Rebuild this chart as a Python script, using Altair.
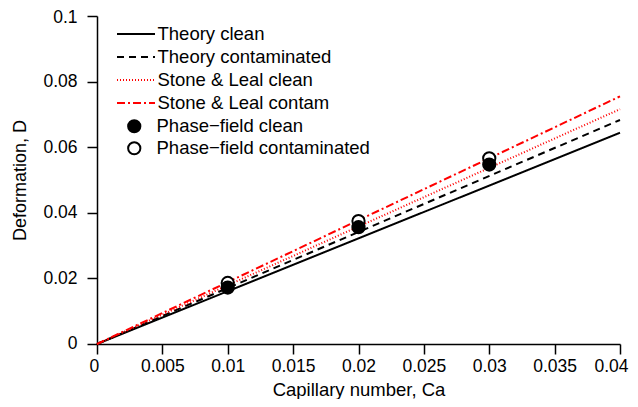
import altair as alt
import pandas as pd

# ---- data ----
ca_line = [0.0, 0.04]
theory_clean = [0.0, 0.0644]
theory_contam = [0.0, 0.0683]
stone_clean = [0.0, 0.0716]
stone_contam = [0.0, 0.0755]

ca_pts = [0.01, 0.02, 0.03]
pf_clean = [0.0172, 0.0356, 0.0547]
pf_contam = [0.0186, 0.0375, 0.0566]

line_names = ["Theory clean", "Theory contaminated", "Stone & Leal clean", "Stone & Leal contam"]
point_names = ["Phase\u2212field clean", "Phase\u2212field contaminated"]

x_ticks = [0, 0.005, 0.01, 0.015, 0.02, 0.025, 0.03, 0.035, 0.04]
y_ticks = [0, 0.02, 0.04, 0.06, 0.08, 0.1]

# ---- tables ----
rows = []
for name, ys in zip(line_names, [theory_clean, theory_contam, stone_clean, stone_contam]):
    for x, y in zip(ca_line, ys):
        rows.append({"Ca": x, "D": y, "series": name})
lines_df = pd.DataFrame(rows)

prow = []
for name, ys in [(point_names[1], pf_contam), (point_names[0], pf_clean)]:
    for x, y in zip(ca_pts, ys):
        prow.append({"Ca": x, "D": y, "pseries": name})
pts_df = pd.DataFrame(prow)

FONT = "Liberation Sans"

xsc = alt.Scale(domain=[0, 0.04], nice=False)
ysc = alt.Scale(domain=[0, 0.1], nice=False)

xax = alt.Axis(values=x_ticks, format="~g", title="Capillary number, Ca", grid=False,
               labelPadding=3, titlePadding=6, titleFontSize=18.5,
               labelFlush=True, labelFlushOffset=8)
yax = alt.Axis(values=y_ticks, format="~g", title="Deformation, D", grid=False,
               labelPadding=10, titlePadding=13, titleFontSize=18,
               labelFlush=True, labelFlushOffset=8)

lines = alt.Chart(lines_df).mark_line().encode(
    x=alt.X("Ca:Q", scale=xsc, axis=xax),
    y=alt.Y("D:Q", scale=ysc, axis=yax),
    color=alt.Color("series:N",
                    scale=alt.Scale(domain=line_names, range=["black", "black", "#ff0000", "#ff0000"]),
                    legend=alt.Legend(title=None, orient="none", legendX=28.5, legendY=7.5,
                                      symbolType="M-2,0H2", symbolSize=361,
                                      symbolStrokeWidth=2, labelOffset=11, rowPadding=3)),
    strokeDash=alt.StrokeDash("series:N",
                              scale=alt.Scale(domain=line_names,
                                              range=[[1, 0], [7, 5], [1, 2], [8, 3, 2, 3]]),
                              legend=alt.Legend(title=None)),
    strokeWidth=alt.StrokeWidth("series:N",
                                scale=alt.Scale(domain=line_names, range=[2, 2, 1, 2]),
                                legend=alt.Legend(title=None)),
    detail="series:N",
)

points = alt.Chart(pts_df).mark_point(filled=True, size=150, stroke="black", strokeWidth=2, opacity=1).encode(
    x=alt.X("Ca:Q", scale=xsc),
    y=alt.Y("D:Q", scale=ysc),
    fill=alt.Fill("pseries:N",
                  scale=alt.Scale(domain=point_names, range=["black", "white"]),
                  legend=alt.Legend(title=None, orient="none", legendX=28, legendY=101,
                                    symbolType="circle", symbolSize=150,
                                    symbolStrokeColor="black", symbolStrokeWidth=2,
                                    labelOffset=13, rowPadding=1)),
)

chart = alt.layer(lines, points).resolve_legend(fill="independent").properties(
    width=523, height=328,
    autosize=alt.AutoSizeParams(type="none"),
    padding={"left": 89, "top": 8, "right": 10, "bottom": 55},
).configure_view(stroke=None).configure_axis(
    labelFont=FONT, titleFont=FONT, labelFontSize=17.5,
    titleFontWeight="normal", labelColor="black", titleColor="black",
    domainColor="black", tickColor="black", domainWidth=1.5, tickWidth=1.5,
    tickSize=10,
).configure_legend(
    labelFont=FONT, labelFontSize=18.5, labelColor="black", padding=0, labelLimit=400
)

chart.save("out.html", embed_options={"renderer": "svg", "actions": False})
